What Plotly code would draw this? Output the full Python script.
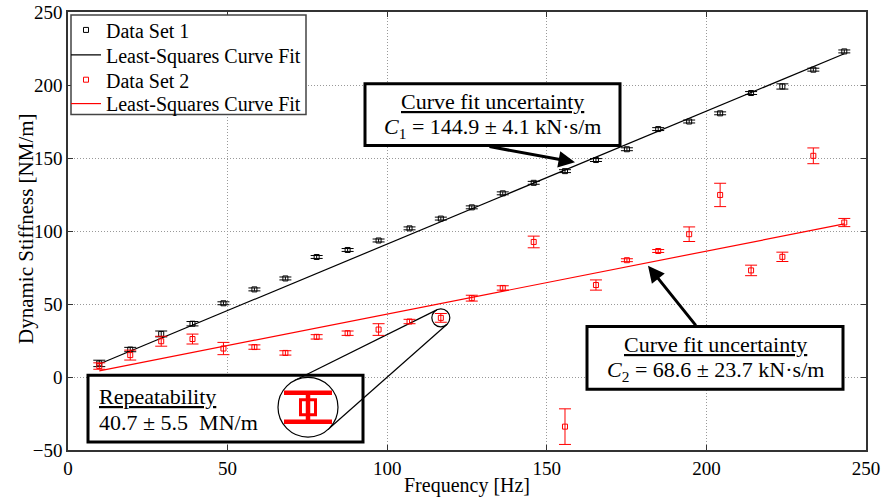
import numpy as np
import plotly.graph_objects as go

# ---------------- data ----------------
freq = [9.8, 19.5, 29.2, 39.0, 48.7, 58.4, 68.1, 77.9, 87.6, 97.3, 107.0, 116.8, 126.5,
        136.2, 145.9, 155.7, 165.4, 175.1, 184.9, 194.6, 204.3, 214.0, 223.8, 233.5, 243.2]
stiff1 = [9.3, 18.8, 29.5, 36.5, 50.5, 60.0, 67.5, 82.2, 87.0, 93.5, 101.8, 108.5, 116.2,
          125.8, 133.0, 141.0, 148.6, 156.0, 169.8, 175.0, 180.6, 194.5, 199.0, 210.5, 223.0]
err1 = [2.2, 1.5, 2.0, 1.5, 1.0, 1.0, 1.0, 1.0, 1.0, 1.0, 1.0, 1.0, 1.0,
        1.0, 1.0, 1.0, 1.0, 1.0, 1.0, 1.0, 1.0, 1.0, 1.8, 1.0, 1.0]
stiff2 = [7.5, 15.0, 24.5, 26.0, 19.5, 20.5, 16.5, 27.5, 30.0, 32.5, 38.0, 40.5, 54.0,
          61.0, 92.5, -34.0, 63.0, 80.0, 86.3, 97.8, 124.7, 73.0, 82.3, 151.5, 105.8]
err2 = [2.2, 3.4, 3.4, 3.4, 4.2, 1.5, 1.5, 1.5, 1.5, 4.0, 1.5, 3.0, 2.0,
        1.5, 4.0, 12.2, 3.5, 1.0, 1.0, 5.0, 8.0, 3.6, 3.2, 5.4, 2.8]
C1, dC1 = 144.9, 4.1     # kN·s/m
C2, dC2 = 68.6, 23.7     # kN·s/m
rep_val, rep_err = 40.7, 5.5   # MN/m
zoom_idx = 11                  # data point shown in the magnifier

FONT = "Liberation Serif, Times New Roman, serif"

# plot-area geometry (pixels) used to place annotation boxes
L, R, T, B = 68, 866, 10, 450
XR, YR = (0, 250), (-50, 250)
def dx(px):
    return XR[0] + (px - L) / (R - L) * (XR[1] - XR[0])
def dy(py):
    return YR[0] + (B - py) / (B - T) * (YR[1] - YR[0])
def pxx(v):
    return L + (v - XR[0]) / (XR[1] - XR[0]) * (R - L)
def pxy(v):
    return B - (v - YR[0]) / (YR[1] - YR[0]) * (B - T)
def xp(px):
    return (px - L) / (R - L)
def yp(py):
    return (B - py) / (B - T)

f_fit = np.array([freq[0], freq[-1]])
k1 = 2 * np.pi * C1 * f_fit / 1000.0
k2 = 2 * np.pi * C2 * f_fit / 1000.0

fig = go.Figure()
fig.add_trace(go.Scatter(
    x=freq, y=stiff1, mode="markers", name="Data Set 1", legend="legend",
    marker=dict(symbol="square-open", size=5, color="black", line=dict(width=1)),
    error_y=dict(type="data", array=err1, color="black", thickness=1, width=6)))
fig.add_trace(go.Scatter(
    x=f_fit, y=k1, mode="lines", name="Least-Squares Curve Fit", legend="legend2",
    line=dict(color="black", width=1.2)))
fig.add_trace(go.Scatter(
    x=freq, y=stiff2, mode="markers", name="Data Set 2", legend="legend3",
    marker=dict(symbol="square-open", size=5, color="red", line=dict(width=1)),
    error_y=dict(type="data", array=err2, color="red", thickness=1, width=6)))
fig.add_trace(go.Scatter(
    x=f_fit, y=k2, mode="lines", name="Least-Squares Curve Fit", legend="legend4",
    line=dict(color="red", width=1.2)))

# magnified data point (inset axes)
zx, zy, ze = freq[zoom_idx], stiff2[zoom_idx], err2[zoom_idx]
half = 28 * ze / 14.5
fig.add_trace(go.Scatter(
    x=[zx], y=[zy], mode="markers", showlegend=False, xaxis="x2", yaxis="y2",
    marker=dict(symbol="square-open", size=15, color="red", line=dict(width=3)),
    error_y=dict(type="data", array=[ze], color="red", thickness=4.5, width=24),
    cliponaxis=False))

shapes = []
def rect(px0, py0, px1, py1, w=3):
    shapes.append(dict(type="rect", xref="x", yref="y", x0=dx(px0), x1=dx(px1),
                       y0=dy(py1), y1=dy(py0), line=dict(color="black", width=w),
                       fillcolor="white", layer="between"))
rect(365, 82, 620, 144)
rect(587, 326, 843, 389)
rect(88, 375, 363, 442)

# legend frame
shapes.append(dict(type="rect", xref="paper", yref="paper", x0=xp(71), x1=xp(306),
                   y0=yp(113), y1=yp(13), line=dict(color="#444", width=1.5),
                   fillcolor="white", layer="above"))

# magnifier circles and tangent lines
c1 = np.array([pxx(zx), pxy(zy)]); r1 = 9.0
c2 = np.array([308.0, 407.0]); r2 = 30.0
d = c2 - c1
D = np.hypot(*d); phi = np.arctan2(d[1], d[0]); a = np.arccos((r2 - r1) / D)
for th in (phi + a, phi - a):
    n = np.array([np.cos(th), np.sin(th)])
    p1 = c1 - r1 * n; p2 = c2 - r2 * n
    shapes.append(dict(type="line", xref="x", yref="y", x0=dx(p1[0]), y0=dy(p1[1]),
                       x1=dx(p2[0]), y1=dy(p2[1]), line=dict(color="black", width=1.2),
                       layer="between"))
shapes.append(dict(type="circle", xref="x", yref="y", x0=dx(c2[0] - r2), x1=dx(c2[0] + r2),
                   y0=dy(c2[1] + r2), y1=dy(c2[1] - r2), line=dict(color="black", width=1.2),
                   fillcolor="white", layer="between"))
shapes.append(dict(type="circle", xref="x", yref="y", x0=dx(c1[0] - r1), x1=dx(c1[0] + r1),
                   y0=dy(c1[1] + r1), y1=dy(c1[1] - r1), line=dict(color="black", width=1.2),
                   layer="between"))

ann = []
def text(px, py, s, anchor="center", size=22):
    ann.append(dict(x=dx(px), y=dy(py), xref="x", yref="y", text=s, showarrow=False,
                    xanchor=anchor, yanchor="middle", font=dict(family=FONT, size=size, color="black")))
text(492, 100, "<u>Curve fit uncertainty</u>")
text(492, 127, f"<i>C</i><sub>1</sub> = {C1} ± {dC1} kN·s/m")
text(715, 344, "<u>Curve fit uncertainty</u>")
text(715, 371, f"<i>C</i><sub>2</sub> = {C2} ± {dC2} kN·s/m")
text(97, 396, "<u>Repeatability</u>", anchor="left")
text(97, 422, f"{rep_val} ± {rep_err}\u00a0 MN/m", anchor="left")

# y-axis title placed as rotated paper annotation
ann.append(dict(x=xp(26), y=yp(228), xref="paper", yref="paper",
                text="Dynamic Stiffness [NM/m]", showarrow=False, textangle=-90,
                xanchor="center", yanchor="middle",
                font=dict(family=FONT, size=21, color="black")))

def arrow(tipx, tipy, tailx, taily):
    ann.append(dict(x=dx(tipx), y=dy(tipy), xref="x", yref="y", text="", showarrow=True,
                    ax=tailx - tipx, ay=taily - tipy, arrowhead=2, arrowsize=1.1,
                    arrowwidth=3, arrowcolor="black", standoff=0))
arrow(575, 161, 488, 145)
arrow(648, 265, 697, 326)

axis_common = dict(showline=True, linecolor="#333", linewidth=1.5, mirror="ticks",
                   ticks="inside", ticklen=5, tickcolor="#333", automargin=False,
                   ticklabeloverflow="allow",
                   showgrid=True, gridcolor="#999", griddash="1px,2px", gridwidth=1,
                   zeroline=False, tickfont=dict(family=FONT, size=19, color="black"))

def leg(py):
    return dict(x=xp(66), y=yp(py), xanchor="left", yanchor="middle",
                bgcolor="rgba(0,0,0,0)", borderwidth=0,
                font=dict(family=FONT, size=20, color="black"))

fig.update_layout(
    width=881, height=504,
    margin=dict(l=L, r=881 - R, t=T, b=504 - B),
    paper_bgcolor="white", plot_bgcolor="rgba(0,0,0,0)",
    font=dict(family=FONT, color="black"),
    xaxis=dict(range=list(XR), tickvals=[0, 50, 100, 150, 200, 250],
               title=dict(text="Frequency [Hz]", font=dict(family=FONT, size=20), standoff=0),
               **axis_common),
    yaxis=dict(range=list(YR), tickvals=[-50, 0, 50, 100, 150, 200, 250],
               **axis_common),
    xaxis2=dict(domain=[xp(280), xp(336)], anchor="y2",
                range=[zx - 1, zx + 1], visible=False),
    yaxis2=dict(domain=[yp(435), yp(379)], anchor="x2",
                range=[zy - half, zy + half], visible=False),
    legend=leg(28), legend2=leg(53), legend3=leg(78), legend4=leg(102),
    shapes=shapes, annotations=ann,
)

fig.write_html("out.html")
